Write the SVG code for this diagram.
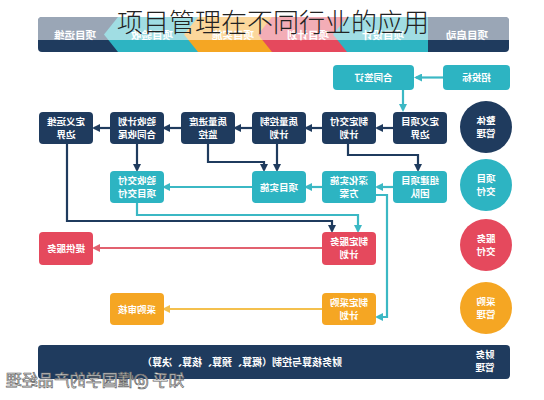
<svg xmlns="http://www.w3.org/2000/svg" width="544" height="400" viewBox="0 0 544 400">
<style>
.nv{fill:#1f3b5e}
.cy{fill:#2db4c2}
.rd{fill:#e5495d}
.og{fill:#f5a623}
.lbl{font-family:"Noto Sans CJK SC","Noto Sans",sans-serif;font-size:9.5px;fill:#fff;text-anchor:middle;font-weight:bold}
.band{font-family:"Noto Sans CJK SC","Noto Sans",sans-serif;font-size:10.5px;fill:#fff;text-anchor:middle;font-weight:bold}
.ln{fill:none;stroke-width:2.2}
.lnv{stroke:#1f3b5e}
.lcy{stroke:#3bb8c4}
.lrd{stroke:#e2616f}
.log{stroke:#f4c04e}
</style>
<defs>
<marker id="aN" viewBox="0 0 8 8" refX="6" refY="4" markerWidth="8" markerHeight="8" markerUnits="userSpaceOnUse" orient="auto"><path d="M0,0 L8,4 L0,8 z" fill="#1f3b5e"/></marker>
<marker id="aC" viewBox="0 0 8 8" refX="6" refY="4" markerWidth="8" markerHeight="8" markerUnits="userSpaceOnUse" orient="auto"><path d="M0,0 L8,4 L0,8 z" fill="#3bb8c4"/></marker>
<marker id="aR" viewBox="0 0 8 8" refX="6" refY="4" markerWidth="8" markerHeight="8" markerUnits="userSpaceOnUse" orient="auto"><path d="M0,0 L8,4 L0,8 z" fill="#e2616f"/></marker>
<marker id="aO" viewBox="0 0 8 8" refX="6" refY="4" markerWidth="8" markerHeight="8" markerUnits="userSpaceOnUse" orient="auto"><path d="M0,0 L8,4 L0,8 z" fill="#f4c04e"/></marker>
<clipPath id="bandClip"><rect x="38" y="17" width="471" height="35" rx="4"/></clipPath>
</defs>

<g id="phase-band">
<g clip-path="url(#bandClip)">
<rect x="38" y="17" width="82" height="35" class="nv"/>
<polygon points="118,17 200,17 200,52 118,52 104,34.5" class="cy"/>
<polygon points="198,17 274,17 274,52 198,52 184,34.5" class="og"/>
<polygon points="272,17 349,17 349,52 272,52 258,34.5" class="rd"/>
<polygon points="347,17 430,17 430,52 347,52 333,34.5" class="cy"/>
<rect x="428" y="17" width="81" height="35" class="nv"/>
<rect x="38" y="17" width="471" height="23" fill="#fff" opacity="0.55"/>
</g>
<text class="band" transform="scale(-1,1)" x="-75" y="39">项目运维</text>
<text class="band" transform="scale(-1,1)" x="-152" y="39">项目验收</text>
<text class="band" transform="scale(-1,1)" x="-233" y="39">项目实施</text>
<text class="band" transform="scale(-1,1)" x="-308" y="39">项目计划</text>
<text class="band" transform="scale(-1,1)" x="-383" y="39">项目设计</text>
<text class="band" transform="scale(-1,1)" x="-467" y="39">项目启动</text>
</g>

<g id="connectors">
<path class="ln lcy" d="M443,77.5 H416" marker-end="url(#aC)"/>
<path class="ln lcy" d="M403,90 V110" marker-end="url(#aC)"/>
<path class="ln lnv" d="M393,128 H377" marker-end="url(#aN)"/>
<path class="ln lnv" d="M322,128 H306" marker-end="url(#aN)"/>
<path class="ln lnv" d="M252,128 H235" marker-end="url(#aN)"/>
<path class="ln lnv" d="M181,128 H164" marker-end="url(#aN)"/>
<path class="ln lnv" d="M110,128 H94" marker-end="url(#aN)"/>
<path class="ln lnv" d="M137,144 V170" marker-end="url(#aN)"/>
<path class="ln lnv" d="M208,144 V162 H264 V170" marker-end="url(#aN)"/>
<path class="ln lnv" d="M277,144 V170" marker-end="url(#aN)"/>
<path class="ln lnv" d="M348,144 V155 H418 V170" marker-end="url(#aN)"/>
<path class="ln lnv" d="M67,144 V221 H332 V231" marker-end="url(#aN)"/>
<path class="ln lcy" d="M393,187 H377" marker-end="url(#aC)"/>
<path class="ln lcy" d="M322,187 H306" marker-end="url(#aC)"/>
<path class="ln lcy" d="M252,187 H164" marker-end="url(#aC)"/>
<path class="ln lcy" d="M137,203 V215 H358 V231" marker-end="url(#aC)"/>
<path class="ln lcy" d="M376,195 H387 V317 H377" marker-end="url(#aC)"/>
<path class="ln lrd" d="M322,248 H94" marker-end="url(#aR)"/>
<path class="ln log" d="M322,309 H164" marker-end="url(#aO)"/>
</g>

<g id="n-zhaotoubiao"><rect x="443" y="65" width="67" height="25" rx="4" class="cy"/><text class="lbl" transform="scale(-1,1)" x="-476.5" y="81">招投标</text></g>
<g id="n-hetong"><rect x="333" y="65" width="81" height="25" rx="4" class="cy"/><text class="lbl" transform="scale(-1,1)" x="-373.5" y="81">合同签订</text></g>

<g id="n-dingyiyunwei"><rect x="39" y="112" width="54" height="32" rx="4" class="nv"/><text class="lbl" transform="scale(-1,1)" x="-66" y="125">定义运维</text><text class="lbl" transform="scale(-1,1)" x="-66" y="138">边界</text></g>
<g id="n-yanshoujihua"><rect x="110" y="112" width="54" height="32" rx="4" class="nv"/><text class="lbl" transform="scale(-1,1)" x="-137" y="125">验收计划</text><text class="lbl" transform="scale(-1,1)" x="-137" y="138">合同收尾</text></g>
<g id="n-zhiliangjindu"><rect x="181" y="112" width="54" height="32" rx="4" class="nv"/><text class="lbl" transform="scale(-1,1)" x="-208" y="125">质量进度</text><text class="lbl" transform="scale(-1,1)" x="-208" y="138">监控</text></g>
<g id="n-zhiliangkongzhi"><rect x="252" y="112" width="54" height="32" rx="4" class="nv"/><text class="lbl" transform="scale(-1,1)" x="-279" y="125">质量控制</text><text class="lbl" transform="scale(-1,1)" x="-279" y="138">计划</text></g>
<g id="n-jiaofujihua"><rect x="322" y="112" width="54" height="32" rx="4" class="nv"/><text class="lbl" transform="scale(-1,1)" x="-349" y="125">制定交付</text><text class="lbl" transform="scale(-1,1)" x="-349" y="138">计划</text></g>
<g id="n-dingyixiangmu"><rect x="393" y="112" width="54" height="32" rx="4" class="nv"/><text class="lbl" transform="scale(-1,1)" x="-420" y="125">定义项目</text><text class="lbl" transform="scale(-1,1)" x="-420" y="138">边界</text></g>
<g id="c-zhengti"><circle cx="486" cy="127" r="26" class="nv"/><text class="lbl" transform="scale(-1,1)" x="-486" y="124">整体</text><text class="lbl" transform="scale(-1,1)" x="-486" y="137">管理</text></g>

<g id="n-yanshoujiaofu"><rect x="110" y="171" width="54" height="32" rx="4" class="cy"/><text class="lbl" transform="scale(-1,1)" x="-137" y="184">验收交付</text><text class="lbl" transform="scale(-1,1)" x="-137" y="197">项目交付</text></g>
<g id="n-xiangmushishi"><rect x="252" y="171" width="54" height="32" rx="4" class="cy"/><text class="lbl" transform="scale(-1,1)" x="-279" y="190.5">项目实施</text></g>
<g id="n-shenhua"><rect x="322" y="171" width="54" height="32" rx="4" class="cy"/><text class="lbl" transform="scale(-1,1)" x="-349" y="184">深化实施</text><text class="lbl" transform="scale(-1,1)" x="-349" y="197">方案</text></g>
<g id="n-zujian"><rect x="393" y="171" width="54" height="32" rx="4" class="cy"/><text class="lbl" transform="scale(-1,1)" x="-420" y="184">组建项目</text><text class="lbl" transform="scale(-1,1)" x="-420" y="197">团队</text></g>
<g id="c-xiangmujiaofu"><circle cx="486" cy="185" r="26" class="cy"/><text class="lbl" transform="scale(-1,1)" x="-486" y="182">项目</text><text class="lbl" transform="scale(-1,1)" x="-486" y="195">交付</text></g>

<g id="n-tigongfuwu"><rect x="39" y="232" width="54" height="33" rx="4" class="rd"/><text class="lbl" transform="scale(-1,1)" x="-66" y="252">提供服务</text></g>
<g id="n-fuwujihua"><rect x="322" y="232" width="54" height="33" rx="4" class="rd"/><text class="lbl" transform="scale(-1,1)" x="-349" y="245">制定服务</text><text class="lbl" transform="scale(-1,1)" x="-349" y="258">计划</text></g>
<g id="c-fuwujiaofu"><circle cx="486" cy="245" r="26" class="rd"/><text class="lbl" transform="scale(-1,1)" x="-486" y="242">服务</text><text class="lbl" transform="scale(-1,1)" x="-486" y="255">交付</text></g>

<g id="n-caigoushenhe"><rect x="110" y="293" width="54" height="32" rx="4" class="og"/><text class="lbl" transform="scale(-1,1)" x="-137" y="312.5">采购审核</text></g>
<g id="n-caigoujihua"><rect x="322" y="293" width="54" height="32" rx="4" class="og"/><text class="lbl" transform="scale(-1,1)" x="-349" y="306">制定采购</text><text class="lbl" transform="scale(-1,1)" x="-349" y="319">计划</text></g>
<g id="c-caigouguanli"><circle cx="486" cy="308" r="26" class="og"/><text class="lbl" transform="scale(-1,1)" x="-486" y="305">采购</text><text class="lbl" transform="scale(-1,1)" x="-486" y="318">管理</text></g>

<g id="n-caiwu"><rect x="38" y="345" width="472" height="34" rx="4" class="nv"/><text class="lbl" transform="scale(-1,1)" x="-242" y="366" style="font-size:10px">财务核算与控制（概算、预算、核算、决算）</text><text class="lbl" transform="scale(-1,1)" x="-485" y="358">财务</text><text class="lbl" transform="scale(-1,1)" x="-485" y="371">管理</text></g>

<text transform="scale(-1,1)" x="-95" y="386" style="font-family:'Noto Sans CJK SC',sans-serif;font-size:16px;fill:#fff;stroke:#666;stroke-width:0.7;text-anchor:middle">知乎 @懂国学的产品经理</text>

<text x="273" y="32" style="font-family:'Noto Sans CJK SC','Noto Sans',sans-serif;font-size:26px;font-weight:300;fill:#222;text-anchor:middle">项目管理在不同行业的应用</text>
</svg>
